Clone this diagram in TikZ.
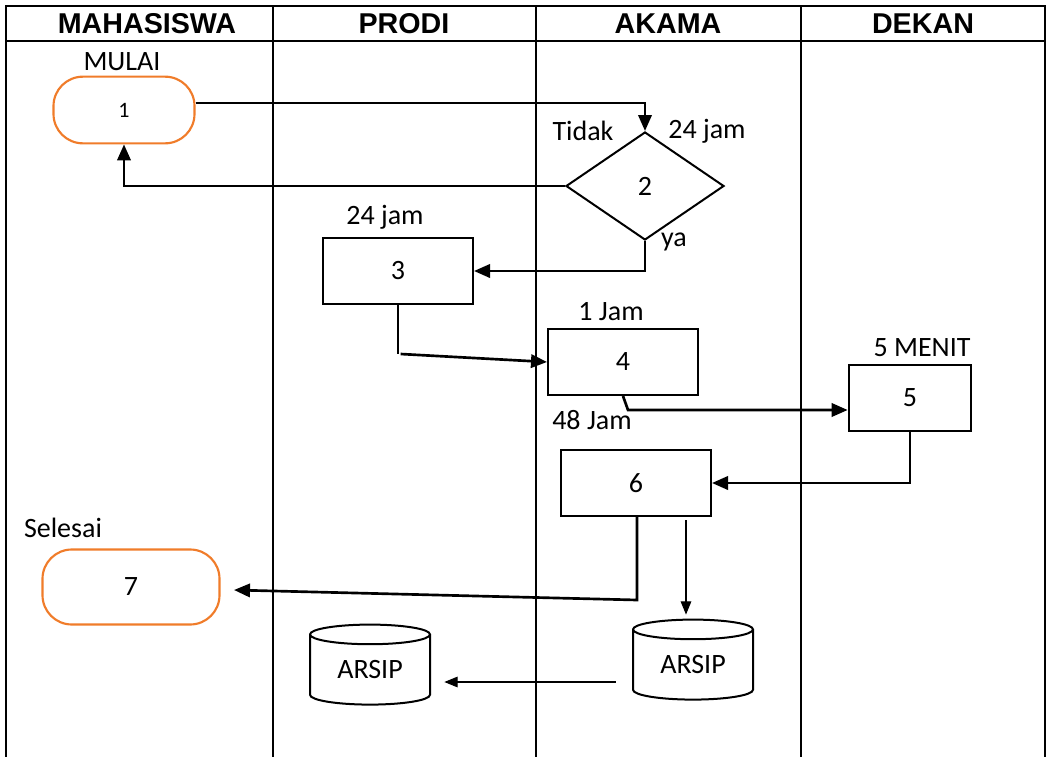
\documentclass[tikz,border=0pt]{standalone}
\usepackage{fontspec}
\setmainfont{Carlito}
\newfontfamily\headfont{Liberation Sans}
\usetikzlibrary{shapes.geometric,arrows.meta}

\definecolor{termorange}{HTML}{F07C2A}

\begin{document}
\begin{tikzpicture}[x=0.75pt,y=-0.75pt]

    \tikzset{
      LaneStyle/.style = {line width=1.2pt},
      HeadStyle/.style = {font=\headfont\bfseries\fontsize{21.5}{24}\selectfont},
      TextStyle/.style = {font=\fontsize{21}{24}\selectfont, inner sep=0pt},
      TermStyle/.style = {rectangle, rounded corners=22pt, draw=termorange,
                          line width=1.6pt, fill=white, TextStyle},
      BoxStyle/.style  = {rectangle, draw, line width=1.5pt, fill=white,
                          minimum width=112.5pt, minimum height=49.5pt, TextStyle},
      DecStyle/.style  = {diamond, draw, line width=1.5pt, fill=white, aspect=1.46,
                          minimum width=118.5pt, minimum height=81pt, TextStyle},
      ArsipStyle/.style = {cylinder, shape border rotate=90, shape aspect=0.3, draw,
                          line width=1.5pt, fill=white, minimum width=90pt,
                          minimum height=60pt, TextStyle},
      EdgeStyle/.style = {line width=2pt, -{Triangle[length=12pt,width=10pt]}},
      ThinStyle/.style = {line width=0.8pt, -{Triangle[length=10pt,width=8pt]}}
    }
    \useasboundingbox (0,0) rectangle (1051,757);

    % lanes
    \draw[LaneStyle] (6,757) -- (6,6) -- (1045,6) -- (1045,757);
    \draw[LaneStyle] (6,41) -- (1045,41);
    \foreach \x in {273,536,801}
      \draw[LaneStyle] (\x,6) -- (\x,757);

    \node[HeadStyle] (hmhs) at (147,24) {MAHASISWA};
    \node[HeadStyle] (hprodi) at (404,24) {PRODI};
    \node[HeadStyle] (hakama) at (668,24) {AKAMA};
    \node[HeadStyle] (hdekan) at (923,24) {DEKAN};

    % steps
    \node[TermStyle, minimum width=105.75pt, minimum height=50pt,
          font=\fontsize{16.5}{18}\selectfont] (n1) at (124,110) {1};
    \node[DecStyle] (n2) at (645,186) {2};
    \node[BoxStyle] (n3) at (398,271) {3};
    \node[BoxStyle] (n4) at (623,362) {4};
    \node[BoxStyle, minimum width=92pt] (n5) at (910,398) {5};
    \node[BoxStyle] (n6) at (636,483) {6};
    \node[TermStyle, minimum width=132.75pt, minimum height=56.25pt] (n7) at (131,587) {7};
    \node[ArsipStyle] (a1) at (370,670) {ARSIP};
    \node[ArsipStyle] (a2) at (693,665) {ARSIP};

    % labels
    \node[TextStyle] (lmulai) at (122,62) {MULAI};
    \node[TextStyle] (ltidak) at (583,131) {Tidak};
    \node[TextStyle] (ljam2) at (707,131) {24 jam};
    \node[TextStyle] (lya) at (674,242) {ya};
    \node[TextStyle] (ljam3) at (385,217) {24 jam};
    \node[TextStyle] (ljam4) at (611,312) {1 Jam};
    \node[TextStyle] (ljam6) at (592,420) {48 Jam};
    \node[TextStyle] (lmenit) at (922,348) {5 MENIT};
    \node[TextStyle] (lselesai) at (63,528) {Selesai};

    % flow
    \coordinate (c12) at (645,103);
    \coordinate (c34) at (398,354);
    \coordinate (c45) at (628,410);
    \coordinate (c67) at (637,600);
    \coordinate (c7) at (234,590);
    \coordinate (c6a) at (686,520);
    \coordinate (ca) at (0,682);

    \draw[EdgeStyle] (n1.east |- c12) -- (c12) -- (n2.north);
    \draw[EdgeStyle] (n2.west) -| (n1.south);
    \draw[EdgeStyle] (n2.south) |- (n3.east);
    \draw[EdgeStyle, -] (n3.south) -- (c34);
    \draw[EdgeStyle] ([xshift=2pt]c34) -- (n4.west);
    \draw[EdgeStyle] (n4.south) -- (c45) -- (n5.west |- c45);
    \draw[EdgeStyle] (n5.south) |- (n6.east);
    \draw[EdgeStyle] (n6.south -| c67) -- (c67) -- (c7);
    \draw[ThinStyle, shorten >=3pt] (c6a) -- (a2.north -| c6a);
    \draw[ThinStyle, shorten <=12pt, shorten >=10pt] (a2.west |- ca) -- (a1.east |- ca);
    \end{tikzpicture}
\end{document}
